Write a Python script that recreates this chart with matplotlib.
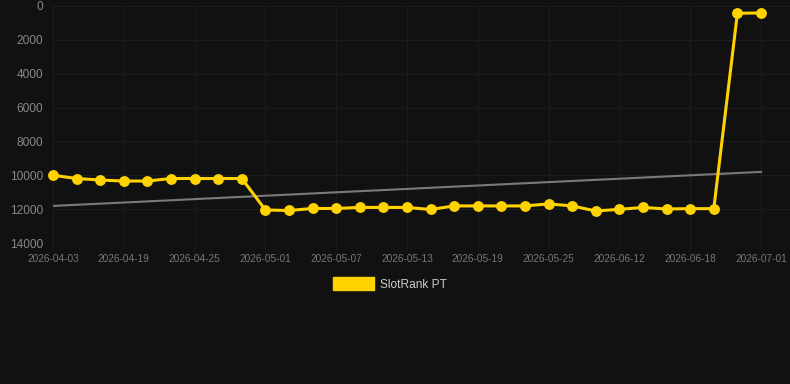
import matplotlib
matplotlib.use("Agg")
import matplotlib.pyplot as plt
import numpy as np
from matplotlib.patches import Patch

plt.rcParams['font.family'] = ['Liberation Sans', 'DejaVu Sans']

values = [10000, 10190, 10280, 10340, 10340, 10190, 10190, 10190, 10190,
          12050, 12080, 11960, 11960, 11900, 11900, 11900, 12020, 11810,
          11810, 11810, 11810, 11690, 11810, 12110, 12010, 11900, 11990,
          11970, 11970, 430, 410]
tick_labels = ['2026-04-03', '2026-04-19', '2026-04-25', '2026-05-01',
               '2026-05-07', '2026-05-13', '2026-05-19', '2026-05-25',
               '2026-06-12', '2026-06-18', '2026-07-01']
trend_ends = [11810, 9800]
series_name = 'SlotRank PT'

bg = '#111111'
gold = '#FFD200'

fig = plt.figure(figsize=(7.9, 3.84), dpi=100, facecolor=bg)
ax = fig.add_axes([53/790, 1 - 243/384, (790 - 53)/790, (243 - 6)/384])
ax.set_facecolor(bg)

x = np.arange(len(values))
ax.plot([x[0], x[-1]], trend_ends, color='#7a7a7a', lw=1.5, zorder=2)
ax.plot(x, values, color=gold, lw=2.2, marker='o', ms=6.8, zorder=3,
        clip_on=False)

ax.set_xlim(0, 30 + 29/23.6)
ax.set_ylim(14000, 0)
ax.set_yticks(np.arange(0, 14001, 2000))
ax.set_xticks(x[::3])
ax.set_xticklabels(tick_labels)
ax.grid(True, color='#1c1c1c', lw=0.8, zorder=0)
for s in ax.spines.values():
    s.set_visible(False)
ax.tick_params(axis='x', colors='#777777', labelsize=7.3, length=4,
               color='#1c1c1c', pad=4)
ax.tick_params(axis='y', colors='#888888', labelsize=8.6, length=0, pad=7)

handle = Patch(facecolor=gold, edgecolor=gold)
leg = fig.legend([handle], [series_name], loc='center',
                 bbox_to_anchor=(390/790, 1 - 284/384), frameon=False,
                 fontsize=8.6, handlelength=3.4, handleheight=1.2,
                 handletextpad=0.5)
for t in leg.get_texts():
    t.set_color('#cccccc')

fig.savefig('out.png', dpi=100, facecolor=bg)
